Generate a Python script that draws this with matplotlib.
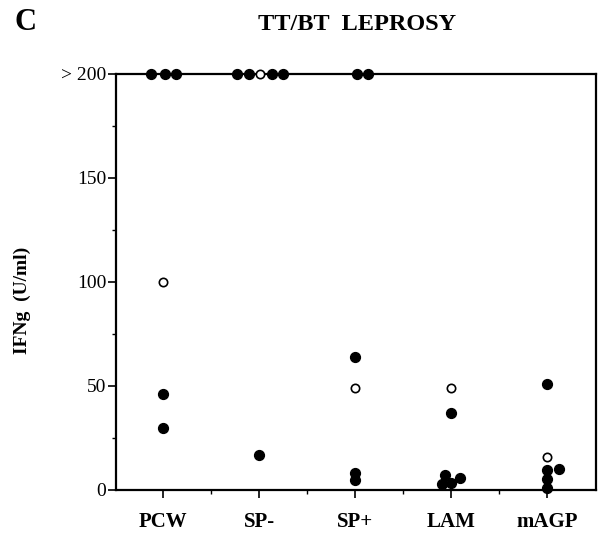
import matplotlib
matplotlib.use("Agg")
import matplotlib.pyplot as plt
from matplotlib.ticker import FixedLocator

categories = ["PCW", "SP-", "SP+", "LAM", "mAGP"]

# filled symbols: (category index, offset, value)
filled_cat = [0, 0, 0, 0, 0,
              1, 1, 1, 1, 1,
              2, 2, 2, 2, 2,
              3, 3, 3, 3, 3,
              4, 4, 4, 4, 4]
filled_off = [-0.13, 0.02, 0.14, 0.0, 0.0,
              -0.23, -0.10, 0.13, 0.25, 0.0,
              0.02, 0.14, 0.0, 0.0, 0.0,
              0.0, -0.06, -0.09, 0.0, 0.09,
              0.0, 0.0, 0.12, 0.0, 0.0]
filled_val = [200, 200, 200, 46, 30,
              200, 200, 200, 200, 17,
              200, 200, 64, 8, 5,
              37, 7, 3, 3.5, 6,
              51, 9.5, 10, 5.5, 1]

# open symbols
open_cat = [0, 1, 2, 3, 4]
open_off = [0.0, 0.01, 0.0, 0.0, 0.0]
open_val = [100, 200, 49, 49, 16]

yticks = [0, 50, 100, 150, 200]
yticklabels = ["0", "50", "100", "150", "> 200"]

serif = ["Liberation Serif", "DejaVu Serif"]

fig = plt.figure(figsize=(5.99, 5.33), dpi=100)
ax = fig.add_axes([116/599, 1-490/533, (596-116)/599, (490-74)/533])

fx = [c + o for c, o in zip(filled_cat, filled_off)]
ox = [c + o for c, o in zip(open_cat, open_off)]
ax.scatter(fx, filled_val, s=50, color="black", zorder=3, clip_on=False)
ax.scatter(ox, open_val, s=36, facecolor="white", edgecolor="black",
           linewidths=1.2, zorder=4, clip_on=False)

ax.set_xlim(-0.49, 4.51)
ax.set_ylim(0, 200)
ax.set_xticks(range(len(categories)))
ax.set_xticklabels(categories, fontfamily=serif, fontweight="bold", fontsize=15)
ax.xaxis.set_minor_locator(FixedLocator([0.5, 1.5, 2.5, 3.5]))
ax.set_yticks(yticks)
ax.set_yticklabels(yticklabels, fontfamily=serif, fontsize=14)
ax.yaxis.set_minor_locator(FixedLocator([25, 75, 125, 175]))

ax.tick_params(axis="both", which="major", direction="out", length=6, width=1.2, pad=1)
ax.tick_params(axis="x", which="major", pad=10)
ax.tick_params(axis="both", which="minor", direction="out", length=3, width=1.0)
for sp in ax.spines.values():
    sp.set_linewidth(1.6)

fig.text(22/599, 1-300/533, "IFNg  (U/ml)", rotation=90, ha="center", va="center",
         fontfamily=serif, fontweight="bold", fontsize=14)

fig.text(357/599, 1-24/533, "TT/BT  LEPROSY", ha="center", va="center",
         fontfamily=serif, fontweight="bold", fontsize=17.5)
fig.text(26/599, 1-23/533, "C", ha="center", va="center",
         fontfamily=serif, fontweight="bold", fontsize=22)

fig.savefig("out.png", dpi=100)
